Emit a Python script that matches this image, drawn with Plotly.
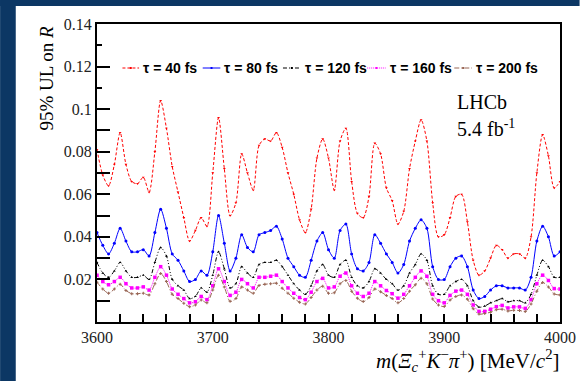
import plotly.graph_objects as go

# ---------------- data ----------------
mass = list(range(3600, 4001, 5))  # MeV/c^2 grid

ul_40fs = [0.081, 0.069, 0.064, 0.074, 0.089, 0.074, 0.066, 0.065, 0.068, 0.061,
           0.080, 0.104, 0.091, 0.073, 0.061, 0.049, 0.038, 0.043, 0.049, 0.045,
           0.070, 0.096, 0.072, 0.050, 0.056, 0.079, 0.070, 0.062, 0.083, 0.086,
           0.085, 0.089, 0.082, 0.070, 0.060, 0.048, 0.042, 0.053, 0.077, 0.086,
           0.077, 0.062, 0.085, 0.091, 0.066, 0.051, 0.049, 0.059, 0.084, 0.079,
           0.063, 0.057, 0.046, 0.052, 0.072, 0.085, 0.095, 0.085, 0.056, 0.040,
           0.041, 0.049, 0.059, 0.060, 0.047, 0.029, 0.022, 0.024, 0.030, 0.036,
           0.034, 0.030, 0.032, 0.032, 0.030, 0.040, 0.070, 0.088, 0.078, 0.063,
           0.066]

ul_80fs = [0.042, 0.036, 0.032, 0.037, 0.044, 0.038, 0.033, 0.033, 0.034, 0.031,
           0.042, 0.053, 0.044, 0.032, 0.029, 0.024, 0.019, 0.020, 0.024, 0.022,
           0.033, 0.050, 0.037, 0.024, 0.030, 0.041, 0.035, 0.033, 0.041, 0.042,
           0.043, 0.045, 0.039, 0.030, 0.026, 0.022, 0.021, 0.029, 0.038, 0.042,
           0.034, 0.030, 0.043, 0.046, 0.032, 0.025, 0.024, 0.028, 0.041, 0.037,
           0.032, 0.028, 0.023, 0.027, 0.038, 0.044, 0.048, 0.044, 0.026, 0.020,
           0.020, 0.026, 0.030, 0.031, 0.026, 0.015, 0.011, 0.012, 0.015, 0.017,
           0.017, 0.016, 0.016, 0.016, 0.015, 0.021, 0.038, 0.045, 0.040, 0.031,
           0.033]

ul_120fs = [0.028, 0.023, 0.021, 0.024, 0.028, 0.024, 0.021, 0.021, 0.022, 0.020,
            0.028, 0.035, 0.031, 0.020, 0.017, 0.015, 0.011, 0.012, 0.016, 0.014,
            0.022, 0.033, 0.025, 0.016, 0.018, 0.026, 0.023, 0.021, 0.027, 0.028,
            0.028, 0.029, 0.026, 0.022, 0.018, 0.015, 0.013, 0.017, 0.024, 0.027,
            0.022, 0.021, 0.027, 0.029, 0.021, 0.017, 0.016, 0.019, 0.025, 0.023,
            0.020, 0.018, 0.015, 0.017, 0.023, 0.027, 0.032, 0.029, 0.017, 0.013,
            0.013, 0.017, 0.019, 0.020, 0.017, 0.010, 0.007, 0.0075, 0.009, 0.010,
            0.011, 0.0095, 0.010, 0.010, 0.009, 0.013, 0.022, 0.029, 0.026, 0.021,
            0.021]

ul_160fs = [0.022, 0.019, 0.0175, 0.019, 0.021, 0.018, 0.016, 0.016, 0.0165, 0.015,
            0.021, 0.026, 0.022, 0.0155, 0.013, 0.011, 0.009, 0.0095, 0.012, 0.0105,
            0.017, 0.025, 0.019, 0.0125, 0.014, 0.020, 0.018, 0.016, 0.021, 0.021,
            0.0215, 0.022, 0.019, 0.016, 0.0135, 0.0115, 0.0105, 0.014, 0.019, 0.0205,
            0.016, 0.0165, 0.0215, 0.023, 0.017, 0.0135, 0.012, 0.0135, 0.019, 0.017,
            0.0148, 0.0133, 0.0112, 0.013, 0.017, 0.021, 0.024, 0.0215, 0.013, 0.010,
            0.009, 0.0125, 0.0145, 0.015, 0.013, 0.008, 0.005, 0.005, 0.006, 0.0072,
            0.0078, 0.0066, 0.0071, 0.0071, 0.0064, 0.0105, 0.018, 0.022, 0.0195, 0.0157,
            0.0155]

ul_200fs = [0.0187, 0.0155, 0.0135, 0.0155, 0.0177, 0.0148, 0.0133, 0.0133, 0.0135, 0.0127,
            0.018, 0.0228, 0.019, 0.013, 0.011, 0.0088, 0.0072, 0.008, 0.0103, 0.009,
            0.015, 0.022, 0.0165, 0.0097, 0.011, 0.0165, 0.015, 0.0135, 0.0172, 0.0177,
            0.018, 0.0182, 0.0158, 0.0135, 0.0112, 0.0093, 0.0085, 0.0115, 0.015, 0.0168,
            0.0135, 0.0138, 0.018, 0.0195, 0.0145, 0.0112, 0.0096, 0.0115, 0.0155, 0.0142,
            0.0125, 0.011, 0.009, 0.011, 0.0145, 0.0175, 0.0205, 0.018, 0.0108, 0.008,
            0.0073, 0.0103, 0.012, 0.0127, 0.0107, 0.0062, 0.0037, 0.004, 0.0046, 0.0058,
            0.006, 0.0052, 0.0055, 0.0054, 0.0049, 0.0085, 0.0145, 0.0185, 0.0165, 0.0132,
            0.0127]

series_names = ["τ = 40 fs", "τ = 80 fs", "τ = 120 fs", "τ = 160 fs", "τ = 200 fs"]
series_values = [ul_40fs, ul_80fs, ul_120fs, ul_160fs, ul_200fs]

x_ticks = [3600, 3700, 3800, 3900, 4000]
y_ticks = [0.02, 0.04, 0.06, 0.08, 0.1, 0.12, 0.14]
y_ticklabels = ["0.02", "0.04", "0.06", "0.08", "0.1", "0.12", "0.14"]

# ---------------- styles ----------------
colors = ["#ff0000", "#0000ff", "#000000", "#ff00ff", "#996655"]
dashes = ["3px,2px", "solid", "4px,2px,1px,2px,1px,2px", "1px,1px", "5px,2px,1px,2px"]
symbols = ["triangle-down", "circle", "triangle-up", "square", "cross"]
msizes = [2.5, 3, 2.5, 3.5, 2.5]

W, H = 588, 381
L, R, T, B = 97, 570, 24, 322
NAVY = "#0c3764"
SERIF = "Liberation Serif"
SANS = "Liberation Sans"


def px2x(px):
    return (px - L) / (R - L)


def px2y(py):
    return (B - py) / (B - T)


fig = go.Figure()
for name, vals, c, d, s, ms in zip(series_names, series_values, colors, dashes, symbols, msizes):
    fig.add_trace(go.Scatter(
        x=mass, y=vals, mode="lines+markers", name=name,
        line=dict(color=c, width=1, dash=d, shape="spline", smoothing=0.8),
        marker=dict(color=c, size=ms, symbol=s, line=dict(width=0)),
        showlegend=False,
    ))

x_all_ticks = list(range(3600, 4001, 20))
x_all_text = [str(v) if v in x_ticks else "" for v in x_all_ticks]
y_major_vals = [round(0.01 * i, 2) for i in range(1, 11)] + [0.12, 0.14]
y_major_text = [y_ticklabels[y_ticks.index(v)] if v in y_ticks else "" for v in y_major_vals]

fig.update_layout(
    width=W, height=H,
    margin=dict(l=L, r=W - R, t=T, b=H - B),
    paper_bgcolor="white", plot_bgcolor="white",
    font=dict(family=SERIF, size=16, color="black"),
    showlegend=False,
    xaxis=dict(
        range=[3600, 4000], showgrid=False, zeroline=False,
        showline=True, linecolor="black", linewidth=2, mirror=True,
        ticks="inside", ticklen=8, tickwidth=1.5, tickcolor="black",
        tickmode="array", tickvals=x_all_ticks, ticktext=x_all_text,
        tickfont=dict(family=SERIF, size=16, color="#222"),
    ),
    yaxis=dict(
        range=[0, 0.14], showgrid=False, zeroline=False,
        showline=True, linecolor="black", linewidth=2, mirror=True,
        ticks="inside", ticklen=13, tickwidth=1.5, tickcolor="black",
        tickmode="array", tickvals=y_major_vals, ticktext=y_major_text,
        tickfont=dict(family=SERIF, size=16, color="#222"),
        minor=dict(ticks="inside", ticklen=5, tickwidth=1.5, tickcolor="black",
                   dtick=0.01, tick0=0),
    ),
    xaxis2=dict(
        overlaying="x", side="top", anchor="y", range=[3600, 4000],
        showgrid=False, zeroline=False, showline=False,
        ticks="inside", ticklen=5, tickwidth=1.5, tickcolor="black",
        tickmode="linear", tick0=3600, dtick=20, showticklabels=False,
    ),
    yaxis2=dict(
        overlaying="y", side="right", anchor="x", range=[0, 0.14],
        showgrid=False, zeroline=False, showline=False,
        ticks="inside", ticklen=6, tickwidth=1.5, tickcolor="black",
        tickmode="linear", tick0=0, dtick=0.01, showticklabels=False,
    ),
)

# navy frame bands (page decoration)
fig.add_shape(type="rect", xref="paper", yref="paper",
              x0=px2x(-2), x1=px2x(14), y0=px2y(W), y1=px2y(-2),
              fillcolor=NAVY, line=dict(width=0), layer="above")
fig.add_shape(type="rect", xref="paper", yref="paper",
              x0=px2x(-2), x1=px2x(W + 2), y0=px2y(6), y1=px2y(-2),
              fillcolor=NAVY, line=dict(width=0), layer="above")

# custom legend
leg_line_x = [(123, 140), (205, 223), (287, 305), (373, 392), (462, 480)]
leg_y = 68
for (x0, x1), name, c, d, s, ms in zip(leg_line_x, series_names, colors, dashes, symbols, msizes):
    fig.add_shape(type="line", xref="paper", yref="paper",
                  x0=px2x(x0), x1=px2x(x1), y0=px2y(leg_y), y1=px2y(leg_y),
                  line=dict(color=c, width=1, dash=d))
    mx = (x0 + x1) / 2
    fig.add_shape(type="rect", xref="paper", yref="paper",
                  x0=px2x(mx - 1), x1=px2x(mx + 1), y0=px2y(leg_y + 1), y1=px2y(leg_y - 1),
                  fillcolor=c, line=dict(width=0))
    fig.add_annotation(xref="paper", yref="paper", x=px2x(x1 + 2), y=px2y(leg_y),
                       xanchor="left", yanchor="middle", showarrow=False,
                       text="<b>" + name + "</b>",
                       font=dict(family=SANS, size=14, color="black"))

# LHCb labels
fig.add_annotation(xref="paper", yref="paper", x=px2x(463), y=px2y(102),
                   xanchor="left", yanchor="middle", showarrow=False,
                   text="LHCb", font=dict(family=SERIF, size=20, color="black"))
fig.add_annotation(xref="paper", yref="paper", x=px2x(463), y=px2y(128),
                   xanchor="left", yanchor="middle", showarrow=False,
                   text="5.4 fb<sup>-1</sup>", font=dict(family=SERIF, size=20, color="black"))

# axis titles
fig.add_annotation(xref="paper", yref="paper", x=px2x(45), y=px2y(24),
                   xanchor="center", yanchor="top", showarrow=False, textangle=-90,
                   text="95% UL on <i>R</i>", font=dict(family=SERIF, size=19, color="black"))
fig.add_annotation(xref="paper", yref="paper", x=px2x(571), y=px2y(360),
                   xanchor="right", yanchor="middle", showarrow=False,
                   text="<i>m</i>(<i>Ξ</i><sub><i>c</i></sub><sup>+</sup><i>K</i><sup>−</sup><i>π</i><sup>+</sup>) [MeV/<i>c</i><sup>2</sup>]",
                   font=dict(family=SERIF, size=21, color="black"))

fig.write_html("out.html")
